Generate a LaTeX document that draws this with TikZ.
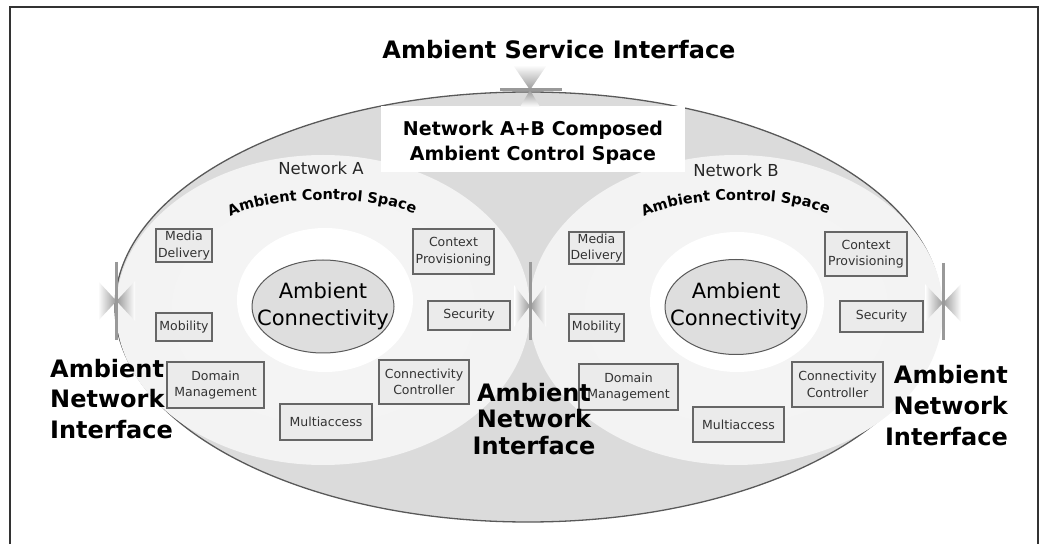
\documentclass[tikz,border=0pt]{standalone}
\usepackage{fontspec}
\setmainfont{DejaVu Sans}
\usepackage{tikz}
\usetikzlibrary{arrows,positioning,shapes.geometric,decorations.text}
\pgfdeclareradialshading{lobeshade}{\pgfpointorigin}{color(0bp)=(white!96!black); color(36bp)=(white!95!black); color(46bp)=(white!92!black); color(50bp)=(white!87!black)}

\begin{document}
\begin{tikzpicture}[x=1pt,y=1pt,
  modul/.style={rectangle,draw=black!60,line width=1.2pt,fill=black!8,inner sep=0pt,align=center,text=black!80,font=\fontsize{12.5}{16.5}\selectfont},
  ani/.style={inner sep=0pt,font=\bfseries\fontsize{24}{30.5}\selectfont},
  core/.style={fill=black!13,draw=black!65,line width=1pt},
  conn/.style={inner sep=0pt,align=center,font=\fontsize{21}{27}\selectfont},
  ifbar/.style={draw=black!40,line width=3pt},
  acs/.style={decorate,decoration={text along path,text align=center,text={|\bfseries\fontsize{14.5}{15}\selectfont|Ambient Control Space}}}]
  \useasboundingbox (0,0) rectangle (1044,544);
  \draw[black!80,line width=1.5pt] (10,0) -- (10,537) -- (1038,537) -- (1038,0);

  \draw[fill=black!14,draw=black!65,line width=1.3pt] (528,237) ellipse [x radius=413pt,y radius=215pt];
  \shade[shading=lobeshade] (323,234) ellipse [x radius=207pt,y radius=155pt];
  \shade[shading=lobeshade] (736,234) ellipse [x radius=207pt,y radius=155pt];
  \fill[white] (381,372) rectangle (685,438);

  \shade[top color=white,bottom color=black!40] (513,479) -- (530,454) -- (547,479) -- cycle;
  \shade[top color=black!40,bottom color=white] (520,437) -- (530,454) -- (540,437) -- cycle;
  \draw[ifbar] (500,454) -- (562,454);

  \fill[white] (325,244) ellipse [x radius=88pt,y radius=72pt];
  \draw[core] (323,237.5) ellipse [x radius=71pt,y radius=46.5pt];
  \fill[white] (737,242) ellipse [x radius=87pt,y radius=70pt];
  \draw[core] (736,237) ellipse [x radius=71pt,y radius=47.5pt];
  \node[conn] (connA) at (323,238) {Ambient\\Connectivity};
  \node[conn] (connB) at (736,237.5) {Ambient\\Connectivity};

  \node[font=\fontsize{16.5}{18}\selectfont,text=black!85] (netA) at (321,376) {Network A};
  \node[font=\fontsize{16.5}{18}\selectfont,text=black!85] (netB) at (736,374) {Network B};
  \path[acs] (221,322) .. controls (258,351) and (387,351) .. (424,325);
  \path[acs] (634,321) .. controls (672,351) and (800,351) .. (838,324);

  \node[modul,minimum width=56pt,minimum height=33pt] (mdA) at (184,298.5) {Media\\Delivery};
  \node[modul,minimum width=81pt,minimum height=45pt] (cpA) at (453.5,292.5) {Context\\Provisioning};
  \node[modul,minimum width=56pt,minimum height=28pt] (mobA) at (184,217) {Mobility};
  \node[modul,minimum width=82pt,minimum height=29pt] (secA) at (469,228.5) {Security};
  \node[modul,minimum width=97pt,minimum height=46pt] (dmA) at (215.5,159) {Domain\\Management};
  \node[modul,minimum width=90pt,minimum height=44pt] (ccA) at (424,162) {Connectivity\\Controller};
  \node[modul,minimum width=92pt,minimum height=36pt] (maA) at (326,122) {Multiaccess};

  \node[modul,minimum width=55pt,minimum height=32pt] (mdB) at (596.5,296) {Media\\Delivery};
  \node[modul,minimum width=82pt,minimum height=44pt] (cpB) at (866,290) {Context\\Provisioning};
  \node[modul,minimum width=55pt,minimum height=27pt] (mobB) at (596.5,216.5) {Mobility};
  \node[modul,minimum width=83pt,minimum height=31pt] (secB) at (881.5,227.5) {Security};
  \node[modul,minimum width=99pt,minimum height=46pt] (dmB) at (628.5,157) {Domain\\Management};
  \node[modul,minimum width=91pt,minimum height=45pt] (ccB) at (837.5,159.5) {Connectivity\\Controller};
  \node[modul,minimum width=91pt,minimum height=35pt] (maB) at (738.5,119.5) {Multiaccess};

  \shade[left color=white,right color=black!40] (98,263) -- (116.5,243) -- (98,223) -- cycle;
  \shade[left color=black!40,right color=white] (135,263) -- (116.5,243) -- (135,223) -- cycle;
  \draw[ifbar] (116.5,282) -- (116.5,204);
  \shade[left color=white,right color=black!40] (514,259) -- (530,238) -- (514,217) -- cycle;
  \shade[left color=black!40,right color=white] (546,259) -- (530,238) -- (546,217) -- cycle;
  \draw[ifbar] (530,282) -- (530,204);
  \shade[left color=white,right color=black!40] (925,260) -- (943,241) -- (925,222) -- cycle;
  \shade[left color=black!40,right color=white] (961,260) -- (943,241) -- (961,222) -- cycle;
  \draw[ifbar] (943,281) -- (943,204);

  \node[font=\bfseries\fontsize{19}{25}\selectfont,align=center,inner sep=0pt] (composed) at (533,401.5) {Network A+B Composed\\Ambient Control Space};
  \node[font=\bfseries\fontsize{24}{28}\selectfont,anchor=base] (asi) at (559,485) {Ambient Service Interface};
  \node[ani,align=left,anchor=north west] (aniL) at (50,185) {Ambient\\Network\\Interface};
  \node[ani,align=center,anchor=north,font=\bfseries\fontsize{24}{26.5}\selectfont] (aniM) at (534,161) {Ambient\\Network\\Interface};
  \node[ani,align=right,anchor=north east,font=\bfseries\fontsize{24}{31}\selectfont] (aniR) at (1008,179) {Ambient\\Network\\Interface};
\end{tikzpicture}
\end{document}
